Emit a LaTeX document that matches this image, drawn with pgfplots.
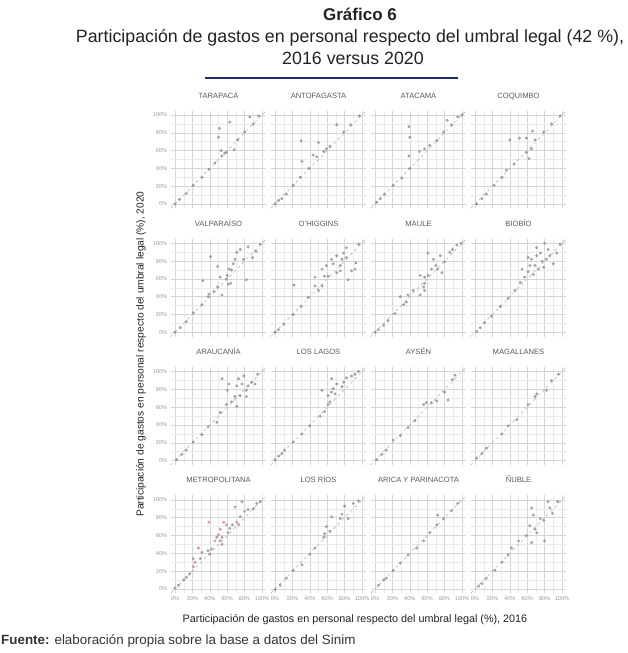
\documentclass[border=0pt]{standalone}
\usepackage{pgfplots}
\pgfplotsset{compat=1.18}
\usepackage{fontspec}
\setmainfont{Liberation Sans}
\definecolor{ptc}{HTML}{8A8A8A}
\definecolor{pkc}{HTML}{D27A96}
\definecolor{navy}{HTML}{1F2C6E}
\definecolor{gridc}{HTML}{D6D6D6}
\definecolor{gridm}{HTML}{EAEAEA}
\definecolor{txt}{HTML}{222222}
\pgfplotsset{panel/.style={
  scale only axis, width=95.7pt, height=97.9pt, anchor=south west,
  xmin=-5,xmax=105,ymin=-5,ymax=105,
  xtick={0,20,...,100}, ytick={0,20,...,100},
  minor xtick={10,30,...,90}, minor ytick={10,30,...,90},
  grid=both, major grid style={gridc, line width=0.55pt}, minor grid style={gridm, line width=0.4pt},
  axis line style={draw=none}, major tick style={draw=none}, minor tick style={draw=none},
  xticklabel={\pgfmathprintnumber[assume math mode=true]{\tick}\%},
  yticklabel={\pgfmathprintnumber[assume math mode=true]{\tick}\%},
  ticklabel style={font=\fontsize{5.6}{6}\selectfont, text=black!40},
  title style={font=\fontsize{7.6}{8}\selectfont, text=black!65, at={(0.5,1)}, anchor=base, yshift=6.5pt, inner sep=0pt},
},
noxl/.style={xticklabel style={opacity=0}},
noyl/.style={yticklabel style={opacity=0}},
pts/.style={only marks, mark=*, mark size=1.3pt, color=ptc, mark options={fill opacity=0.7, draw opacity=0.7}},
pks/.style={only marks, mark=*, mark size=1.3pt, color=pkc, mark options={fill opacity=0.7, draw opacity=0.7}},
diag/.style={dashed, black!35, line width=0.45pt, forget plot},
}
\newcommand\panel[5]{%
  \begin{axis}[panel, at={(#1pt,#2pt)}, title={#3}, #4]
  \addplot[diag] coordinates {(-5,-5) (105,105)};
  \addplot[pts] coordinates {#5};
  \end{axis}}
\begin{document}
\begin{tikzpicture}
% Row 1
\panel{170.65}{444.55}{TARAPACÁ}{noxl}{(0,0)(5,5)(13,12)(21,21)(31,30)(39,39)(46,46)(51,85)(50,75)(53,60)(54,54)(59,58)(63,92)(68,61)(72,72)(80,81)(86,98)(90,90)(96,99)(57,57)}
\panel{270.65}{444.55}{ANTOFAGASTA}{noxl,noyl}{(0,0)(4,4)(8,6)(13,11)(21,21)(29,30)(31,48)(30,71)(39,40)(44,55)(48,53)(50,69)(56,59)(59,62)(63,65)(71,89)(79,81)(87,89)(97,99)}
\panel{370.65}{444.55}{ATACAMA}{noxl,noyl}{(2,2)(6,6)(11,11)(21,21)(31,29)(40,40)(39,54)(40,75)(39,87)(51,59)(57,62)(63,66)(71,71)(79,81)(83,94)(88,89)(95,98)(100,100)}
\panel{470.65}{444.55}{COQUIMBO}{noxl,noyl}{(2,0)(8,6)(13,11)(22,21)(31,30)(36,38)(45,45)(40,72)(51,74)(59,74)(66,82)(69,72)(65,62)(62,51)(59,58)(79,81)(88,90)(98,99)}
% Row 2
\panel{170.65}{316.25}{VALPARAÍSO}{noxl}{(0,0)(6,5)(13,12)(21,22)(31,31)(38,40)(39,43)(45,46)(54,42)(49,51)(52,62)(32,58)(41,85)(49,74)(60,64)(61,54)(64,55)(62,71)(65,70)(69,82)(71,90)(75,93)(79,82)(82,59)(84,96)(89,84)(93,91)(98,99)(59,60)(67,77)}
\panel{270.65}{316.25}{O'HIGGINS}{noxl,noyl}{(0,0)(4,3)(10,9)(21,20)(30,29)(38,39)(22,53)(46,52)(50,47)(54,52)(46,62)(57,63)(61,63)(54,71)(59,75)(65,82)(67,77)(71,86)(75,75)(77,82)(79,89)(82,84)(82,95)(84,59)(88,69)(92,71)(93,78)(96,99)(71,67)(75,69)}
\panel{370.65}{316.25}{MAULE}{noxl,noyl}{(0,0)(4,3)(10,8)(15,13)(23,21)(29,40)(33,31)(36,34)(38,42)(44,47)(52,42)(56,51)(57,47)(57,55)(52,64)(57,62)(61,64)(65,71)(67,82)(70,75)(72,71)(77,67)(61,89)(75,86)(80,79)(86,90)(89,93)(94,98)(99,100)}
\panel{470.65}{316.25}{BIOBÍO}{noxl,noyl}{(2,1)(6,5)(11,11)(19,18)(29,29)(38,38)(46,47)(52,56)(54,71)(57,62)(61,68)(63,75)(65,82)(67,65)(69,75)(71,86)(73,71)(75,89)(77,80)(79,73)(80,100)(82,82)(84,93)(86,86)(90,77)(94,89)(98,99)(71,95)(61,84)}
% Row 3
\panel{170.65}{187.95}{ARAUCANÍA}{noxl}{(2,1)(8,7)(13,12)(21,21)(31,29)(38,38)(48,43)(52,54)(54,92)(59,63)(60,79)(62,86)(65,66)(69,72)(71,84)(73,92)(75,73)(71,61)(77,86)(79,95)(82,79)(84,84)(88,88)(92,86)(95,97)(82,72)}
\panel{270.65}{187.95}{LOS LAGOS}{noxl,noyl}{(0,1)(4,5)(8,8)(11,12)(21,21)(31,30)(40,39)(52,50)(57,55)(61,63)(63,66)(54,79)(61,73)(65,92)(65,77)(67,81)(69,75)(71,86)(77,83)(79,88)(82,93)(88,95)(92,97)(96,100)}
\panel{370.65}{187.95}{AYSÉN}{noxl,noyl}{(2,1)(8,7)(13,12)(21,23)(29,28)(38,37)(46,45)(56,63)(59,65)(65,65)(71,67)(80,77)(84,68)(89,91)(92,96)}
\panel{470.65}{187.95}{MAGALLANES}{noxl,noyl}{(2,3)(8,8)(13,14)(31,30)(38,39)(48,46)(61,63)(69,72)(71,75)(82,79)(88,90)(96,97)}
% Row 4
\begin{axis}[panel, at={(170.65pt,59.65pt)}, title={METROPOLITANA}]
  \addplot[diag] coordinates {(-5,-5) (105,105)};
  \addplot[pts] coordinates {(0,1)(4,4)(10,10)(13,13)(17,17)(21,34)(29,34)(31,41)(38,43)(40,39)(42,45)(52,54)(54,58)(61,63)(66,72)(69,92)(71,75)(75,81)(77,98)(84,89)(90,90)(94,96)(98,98)(48,58)};
  \addplot[pks] coordinates {(21,25)(23,30)(27,46)(39,75)(46,54)(50,61)(52,67)(56,75)(59,72)(63,68)(73,72)(80,87)(54,50)};
\end{axis}
\panel{270.65}{59.65}{LOS RÍOS}{noyl}{(0,-1)(6,4)(13,12)(21,21)(31,27)(40,39)(46,46)(56,58)(57,62)(59,70)(63,65)(65,81)(75,79)(77,84)(80,93)(84,79)(90,96)(96,99)}
\panel{370.65}{59.65}{ARICA Y PARINACOTA}{noyl}{(4,4)(10,10)(13,12)(21,21)(29,29)(38,38)(48,46)(56,54)(63,63)(71,72)(72,83)(79,79)(88,88)(95,96)}
\panel{470.65}{59.65}{ÑUBLE}{noyl}{(4,3)(8,6)(13,12)(23,21)(31,30)(38,38)(42,46)(50,54)(59,60)(63,71)(65,52)(65,91)(67,83)(69,67)(71,63)(75,79)(79,77)(80,54)(84,98)(86,91)(89,85)(95,98)}
% Labels
\node[rotate=90, font=\fontsize{10.2}{12}\selectfont, text=txt] at (141pt,299pt) {Participación de gastos en personal respecto del umbral legal (\%), 2020};
\node[font=\fontsize{10.8}{12}\selectfont, text=txt] at (355pt,33pt) {Participación de gastos en personal respecto del umbral legal (\%), 2016};
\node[font=\fontsize{17}{20}\selectfont\bfseries, text=txt] at (360pt,639pt) {Gráfico 6};
\node[font=\fontsize{17.8}{20}\selectfont, text=txt] at (350pt,615pt) {Participación de gastos en personal respecto del umbral legal (42 \%),};
\node[font=\fontsize{17.8}{20}\selectfont, text=txt] at (353pt,595pt) {2016 versus 2020};
\draw[navy, line width=1.8pt] (205pt,575pt) -- (458pt,575pt);
\node[anchor=west, inner sep=0pt, font=\fontsize{13.4}{15}\selectfont, text=black!80] at (1pt,12pt) {\textbf{Fuente:} elaboración propia sobre la base a datos del Sinim};
\pgfresetboundingbox
\path[use as bounding box] (0,0) rectangle (628pt,653pt);
\end{tikzpicture}
\end{document}
